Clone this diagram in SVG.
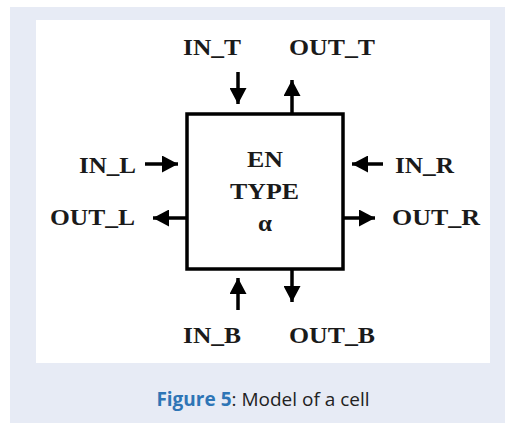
<svg xmlns="http://www.w3.org/2000/svg" width="505" height="423" viewBox="0 0 505 423">
<defs>
<style>
.lbl{font-family:"Liberation Serif","Times New Roman",serif;font-weight:bold;font-size:23px;fill:#1a1a1a;}
.ctr{font-family:"Liberation Serif","Times New Roman",serif;font-weight:bold;font-size:23px;fill:#1a1a1a;}
.wire{stroke:#000;stroke-width:3.5;fill:none;}
.cap{font-family:"Open Sans","Noto Sans",sans-serif;font-size:19px;fill:#222;}
</style>
<marker id="ah" viewBox="0 0 16 17" refX="16" refY="8.5" markerWidth="16" markerHeight="17" markerUnits="userSpaceOnUse" orient="auto">
<path d="M0,0 L16,8.5 L0,17 z" fill="#000"/>
</marker>
</defs>
<rect x="10" y="7" width="495" height="416" fill="#e7ebf5"/>
<rect x="36" y="20" width="454" height="343" fill="#ffffff"/>
<g id="cell">
<rect x="187" y="114" width="156" height="155" fill="#fff" stroke="#000" stroke-width="3.5"/>
<text class="ctr" x="247" y="167" textLength="36" lengthAdjust="spacingAndGlyphs">EN</text>
<text class="ctr" x="230" y="199" textLength="69" lengthAdjust="spacingAndGlyphs">TYPE</text>
<text class="ctr" x="258" y="231" textLength="14" lengthAdjust="spacingAndGlyphs">α</text>
</g>
<g id="connectors">
<line class="wire" x1="238" y1="72" x2="238" y2="104" marker-end="url(#ah)"/>
<line class="wire" x1="292" y1="113" x2="292" y2="80" marker-end="url(#ah)"/>
<line class="wire" x1="145" y1="164" x2="178" y2="164" marker-end="url(#ah)"/>
<line class="wire" x1="186" y1="218" x2="153" y2="218" marker-end="url(#ah)"/>
<line class="wire" x1="383" y1="164" x2="352" y2="164" marker-end="url(#ah)"/>
<line class="wire" x1="344" y1="218" x2="375" y2="218" marker-end="url(#ah)"/>
<line class="wire" x1="238" y1="310" x2="238" y2="278" marker-end="url(#ah)"/>
<line class="wire" x1="292" y1="270" x2="292" y2="302" marker-end="url(#ah)"/>
</g>
<g id="in_t"><text class="lbl" x="183" y="55" textLength="58" lengthAdjust="spacingAndGlyphs">IN_T</text></g>
<g id="out_t"><text class="lbl" x="289" y="55" textLength="86" lengthAdjust="spacingAndGlyphs">OUT_T</text></g>
<g id="in_l"><text class="lbl" x="79" y="173" textLength="57" lengthAdjust="spacingAndGlyphs">IN_L</text></g>
<g id="out_l"><text class="lbl" x="50" y="225" textLength="85" lengthAdjust="spacingAndGlyphs">OUT_L</text></g>
<g id="in_r"><text class="lbl" x="395" y="173" textLength="59" lengthAdjust="spacingAndGlyphs">IN_R</text></g>
<g id="out_r"><text class="lbl" x="392" y="225" textLength="88" lengthAdjust="spacingAndGlyphs">OUT_R</text></g>
<g id="in_b"><text class="lbl" x="183" y="343" textLength="58" lengthAdjust="spacingAndGlyphs">IN_B</text></g>
<g id="out_b"><text class="lbl" x="289" y="343" textLength="86" lengthAdjust="spacingAndGlyphs">OUT_B</text></g>
<text class="cap" x="263" y="406" text-anchor="middle"><tspan fill="#2e75b6" font-weight="bold">Figure 5</tspan>: Model of a cell</text>
</svg>
